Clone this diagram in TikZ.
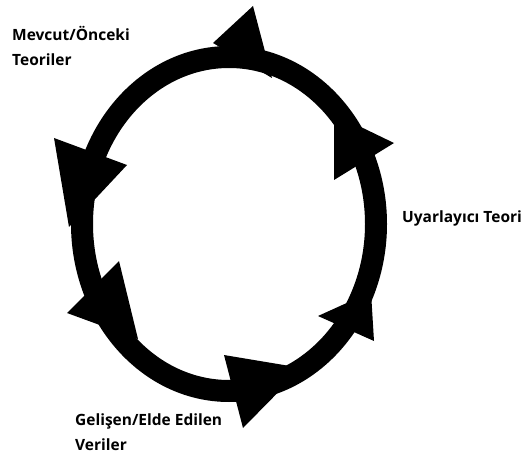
\documentclass[tikz,border=0pt]{standalone}
\usepackage{fontspec}
\setmainfont{Open Sans}
\begin{document}
\begin{tikzpicture}[x=1pt,y=-1pt,
  lbl/.style={font=\bfseries\fontsize{15.5}{25}\selectfont, anchor=west, inner sep=0pt, align=left},
  head/.style={fill=black, draw=none}]
\useasboundingbox (0,0) rectangle (530,457);
% ring
\draw[line width=22pt] (229,224) ellipse [x radius=147, y radius=167];
% arrowheads
\fill[head] (213,43) -- (253,6) -- (272,78) -- cycle;
\fill[head] (334,114) -- (394,143) -- (334,180) -- cycle;
\fill[head] (54,138) -- (127,165) -- (69,227) -- cycle;
\fill[head] (119,261) -- (67,313) -- (138,339) -- cycle;
\fill[head] (224,355) -- (243,428) -- (302,368) -- cycle;
\fill[head] (371,292) -- (318,316) -- (374,341) -- cycle;
% labels
\node[lbl] (mevcut) at (12,46) {Mevcut/Önceki\\Teoriler};
\node[lbl] (uyar) at (402,218) {Uyarlayıcı Teori};
\node[lbl] (gelisen) at (75,432) {Gelişen/Elde Edilen\\Veriler};
\end{tikzpicture}
\end{document}
